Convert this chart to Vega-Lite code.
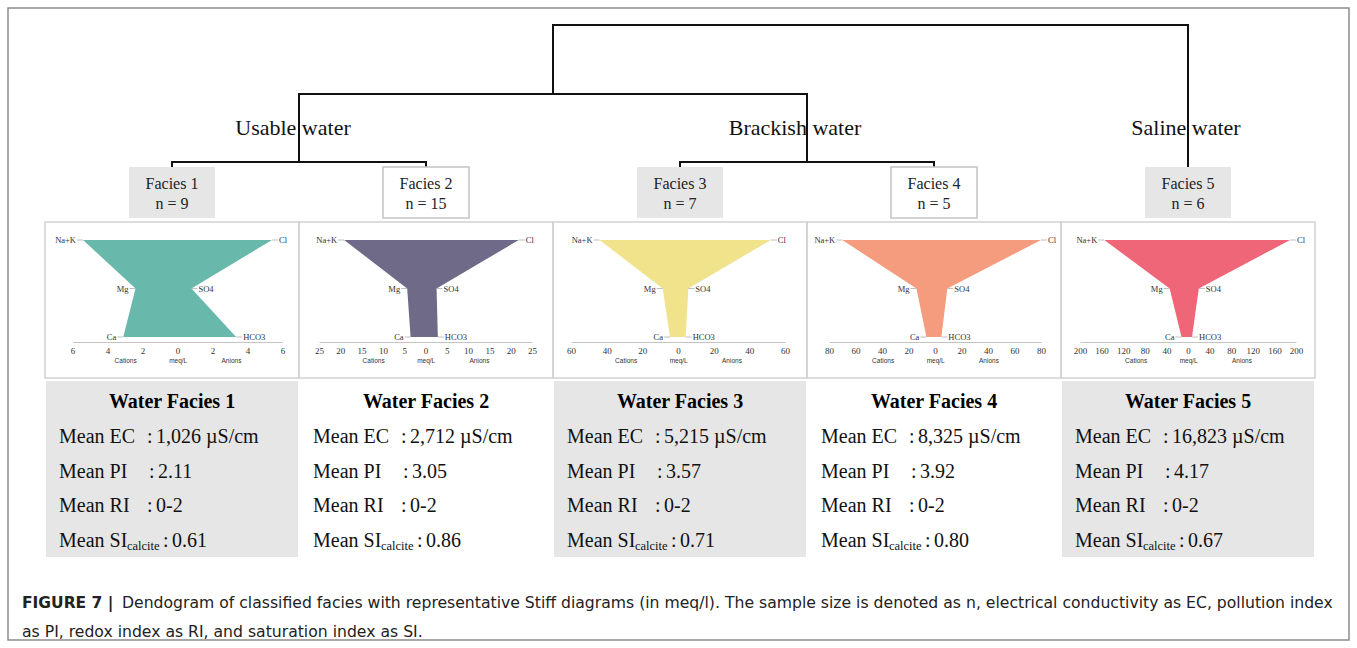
{
  "$schema": "https://vega.github.io/schema/vega-lite/v6.json",
  "width": 1341,
  "height": 632,
  "autosize": {"type": "none"},
  "padding": {"left": 8, "top": 8, "right": 8, "bottom": 8},
  "background": "white",
  "config": {
    "view": {"stroke": "#8c8c8c", "strokeWidth": 1.5},
    "text": {"font": "Liberation Serif", "color": "#111"}
  },
  "datasets": {
    "merges": [
      {"cluster": "Facies 1 + 2", "left": 1, "right": 2, "height": 0.35, "leftFrom": 0, "rightFrom": 0},
      {"cluster": "Facies 3 + 4", "left": 3, "right": 4, "height": 0.35, "leftFrom": 0, "rightFrom": 0},
      {"cluster": "Usable + brackish", "left": 1.5, "right": 3.5, "height": 5.14, "leftFrom": 0.35, "rightFrom": 0.35},
      {"cluster": "All", "left": 2.5, "right": 5, "height": 10, "leftFrom": 5.14, "rightFrom": 0}
    ],
    "groups": [
      {"group": "Usable water", "at": 1.5},
      {"group": "Brackish water", "at": 3.5},
      {"group": "Saline water", "at": 5}
    ],
    "facies": [
      {"facies": 1, "name": "Facies 1", "sample": "n = 9", "title": "Water Facies 1", "Mean EC": "1,026 µS/cm", "Mean PI": "2.11", "Mean RI": "0-2", "Mean SI": "0.61"},
      {"facies": 2, "name": "Facies 2", "sample": "n = 15", "title": "Water Facies 2", "Mean EC": "2,712 µS/cm", "Mean PI": "3.05", "Mean RI": "0-2", "Mean SI": "0.86"},
      {"facies": 3, "name": "Facies 3", "sample": "n = 7", "title": "Water Facies 3", "Mean EC": "5,215 µS/cm", "Mean PI": "3.57", "Mean RI": "0-2", "Mean SI": "0.71"},
      {"facies": 4, "name": "Facies 4", "sample": "n = 5", "title": "Water Facies 4", "Mean EC": "8,325 µS/cm", "Mean PI": "3.92", "Mean RI": "0-2", "Mean SI": "0.80"},
      {"facies": 5, "name": "Facies 5", "sample": "n = 6", "title": "Water Facies 5", "Mean EC": "16,823 µS/cm", "Mean PI": "4.17", "Mean RI": "0-2", "Mean SI": "0.67"}
    ],
    "stiff": [
      {"facies": 1, "row": 3, "cation": -5.4, "anion": 5.4, "cLabel": "Na+K", "aLabel": "Cl"},
      {"facies": 1, "row": 2, "cation": -2.4, "anion": 0.8, "cLabel": "Mg", "aLabel": "SO4"},
      {"facies": 1, "row": 1, "cation": -3.1, "anion": 3.35, "cLabel": "Ca", "aLabel": "HCO3"},
      {"facies": 2, "row": 3, "cation": -19.1, "anion": 21.9, "cLabel": "Na+K", "aLabel": "Cl"},
      {"facies": 2, "row": 2, "cation": -4.3, "anion": 2.6, "cLabel": "Mg", "aLabel": "SO4"},
      {"facies": 2, "row": 1, "cation": -3.5, "anion": 2.9, "cLabel": "Ca", "aLabel": "HCO3"},
      {"facies": 3, "row": 3, "cation": -44, "anion": 52, "cLabel": "Na+K", "aLabel": "Cl"},
      {"facies": 3, "row": 2, "cation": -8.6, "anion": 5.8, "cLabel": "Mg", "aLabel": "SO4"},
      {"facies": 3, "row": 1, "cation": -4.5, "anion": 4.3, "cLabel": "Ca", "aLabel": "HCO3"},
      {"facies": 4, "row": 3, "cation": -70, "anion": 80, "cLabel": "Na+K", "aLabel": "Cl"},
      {"facies": 4, "row": 2, "cation": -14, "anion": 9.3, "cLabel": "Mg", "aLabel": "SO4"},
      {"facies": 4, "row": 1, "cation": -6.5, "anion": 4.8, "cLabel": "Ca", "aLabel": "HCO3"},
      {"facies": 5, "row": 3, "cation": -155, "anion": 189, "cLabel": "Na+K", "aLabel": "Cl"},
      {"facies": 5, "row": 2, "cation": -34, "anion": 20, "cLabel": "Mg", "aLabel": "SO4"},
      {"facies": 5, "row": 1, "cation": -12, "anion": 7.4, "cLabel": "Ca", "aLabel": "HCO3"}
    ],
    "caption": [
      {"line": 1, "lead": "FIGURE 7 |", "text": "Dendogram of classified facies with representative Stiff diagrams (in meq/l). The sample size is denoted as n, electrical conductivity as EC, pollution index"},
      {"line": 2, "lead": "", "text": "as PI, redox index as RI, and saturation index as SI."}
    ]
  },
  "resolve": {"scale": {"x": "independent", "y": "independent"}},
  "layer": [
    {
      "layer": [
        {
          "data": {"name": "merges"},
          "mark": {"type": "rule", "color": "#111", "strokeWidth": 2, "strokeCap": "square"},
          "encoding": {
            "x": {"field": "left", "type": "quantitative", "scale": {"domain": [1, 5], "range": [164, 1180], "nice": false, "zero": false}, "axis": null},
            "x2": {"field": "right"},
            "y": {"field": "height", "type": "quantitative", "scale": {"domain": [0, 10], "range": [159, 17], "nice": false, "zero": false}, "axis": null}
          }
        },
        {
          "data": {"name": "merges"},
          "mark": {"type": "rule", "color": "#111", "strokeWidth": 2, "strokeCap": "square"},
          "encoding": {
            "x": {"field": "left", "type": "quantitative", "axis": null},
            "y": {"field": "leftFrom", "type": "quantitative", "axis": null},
            "y2": {"field": "height"}
          }
        },
        {
          "data": {"name": "merges"},
          "mark": {"type": "rule", "color": "#111", "strokeWidth": 2, "strokeCap": "square"},
          "encoding": {
            "x": {"field": "right", "type": "quantitative", "axis": null},
            "y": {"field": "rightFrom", "type": "quantitative", "axis": null},
            "y2": {"field": "height"}
          }
        },
        {
          "data": {"name": "groups"},
          "transform": [{"filter": "datum.group == 'Usable water'"}],
          "mark": {"type": "text", "fontSize": 22, "dx": -6},
          "encoding": {"x": {"field": "at", "type": "quantitative", "axis": null}, "y": {"datum": 2.75, "type": "quantitative", "axis": null}, "text": {"field": "group"}}
        },
        {
          "data": {"name": "groups"},
          "transform": [{"filter": "datum.group == 'Brackish water'"}],
          "mark": {"type": "text", "fontSize": 22, "dx": -12},
          "encoding": {"x": {"field": "at", "type": "quantitative", "axis": null}, "y": {"datum": 2.75, "type": "quantitative", "axis": null}, "text": {"field": "group"}}
        },
        {
          "data": {"name": "groups"},
          "transform": [{"filter": "datum.group == 'Saline water'"}],
          "mark": {"type": "text", "fontSize": 22, "dx": -2},
          "encoding": {"x": {"field": "at", "type": "quantitative", "axis": null}, "y": {"datum": 2.75, "type": "quantitative", "axis": null}, "text": {"field": "group"}}
        },
        {
          "data": {"name": "facies"},
          "mark": {"type": "point", "shape": "M-1,-0.593H1V0.593H-1Z", "size": 7396, "filled": true, "opacity": 1, "yOffset": 25.5, "strokeWidth": 1.5},
          "encoding": {
            "x": {"field": "facies", "type": "quantitative", "axis": null},
            "y": {"datum": 0, "type": "quantitative", "axis": null},
            "fill": {"condition": {"test": "datum.facies % 2 == 0", "value": "#ffffff"}, "value": "#e6e6e6"},
            "stroke": {"condition": {"test": "datum.facies % 2 == 0", "value": "#c4c4c4"}, "value": "transparent"}
          }
        },
        {
          "data": {"name": "facies"},
          "mark": {"type": "point", "shape": "M-1,-0.614H1V0.614H-1Z", "size": 64516, "filled": false, "opacity": 1, "yOffset": 133, "stroke": "#d2d2d2", "strokeWidth": 1.5},
          "encoding": {
            "x": {"field": "facies", "type": "quantitative", "axis": null},
            "y": {"datum": 0, "type": "quantitative", "axis": null}
          }
        },
        {
          "data": {"name": "facies"},
          "mark": {"type": "text", "fontSize": 16, "dy": 17, "color": "#222"},
          "encoding": {"x": {"field": "facies", "type": "quantitative", "axis": null}, "y": {"datum": 0, "type": "quantitative", "axis": null}, "text": {"field": "name"}}
        },
        {
          "data": {"name": "facies"},
          "mark": {"type": "text", "fontSize": 16, "dy": 37, "color": "#222"},
          "encoding": {"x": {"field": "facies", "type": "quantitative", "axis": null}, "y": {"datum": 0, "type": "quantitative", "axis": null}, "text": {"field": "sample"}}
        }
      ]
    },
    {
      "data": {"name": "facies"},
      "layer": [
        {
          "transform": [{"filter": "datum.facies % 2 == 1"}],
          "mark": {"type": "point", "shape": "M-1,-0.698H1V0.698H-1Z", "size": 63504, "filled": true, "fill": "#e6e6e6", "opacity": 1, "yOffset": -2.5},
          "encoding": {
            "x": {"field": "facies", "type": "quantitative", "scale": {"domain": [1, 5], "range": [164, 1180], "nice": false, "zero": false}, "axis": null},
            "y": {"datum": 3, "type": "quantitative", "scale": {"domain": [1, 5], "range": [394, 533], "nice": false, "zero": false}, "axis": null}
          }
        },
        {
          "mark": {"type": "text", "fontSize": 20, "fontWeight": "bold", "color": "#000"},
          "encoding": {"x": {"field": "facies", "type": "quantitative", "axis": null}, "y": {"datum": 1, "type": "quantitative", "axis": null}, "text": {"field": "title"}}
        },
        {
          "mark": {"type": "text", "fontSize": 20, "align": "left", "dx": -113, "color": "#111", "text": "Mean EC"},
          "encoding": {"x": {"field": "facies", "type": "quantitative", "axis": null}, "y": {"datum": 2, "type": "quantitative", "axis": null}}
        },
        {
          "mark": {"type": "text", "fontSize": 20, "align": "left", "dx": -25, "color": "#111", "text": ":"},
          "encoding": {"x": {"field": "facies", "type": "quantitative", "axis": null}, "y": {"datum": 2, "type": "quantitative", "axis": null}}
        },
        {
          "mark": {"type": "text", "fontSize": 20, "align": "left", "dx": -16, "color": "#111"},
          "encoding": {"x": {"field": "facies", "type": "quantitative", "axis": null}, "y": {"datum": 2, "type": "quantitative", "axis": null}, "text": {"field": "Mean EC"}}
        },
        {
          "mark": {"type": "text", "fontSize": 20, "align": "left", "dx": -113, "color": "#111", "text": "Mean PI"},
          "encoding": {"x": {"field": "facies", "type": "quantitative", "axis": null}, "y": {"datum": 3, "type": "quantitative", "axis": null}}
        },
        {
          "mark": {"type": "text", "fontSize": 20, "align": "left", "dx": -23, "color": "#111", "text": ":"},
          "encoding": {"x": {"field": "facies", "type": "quantitative", "axis": null}, "y": {"datum": 3, "type": "quantitative", "axis": null}}
        },
        {
          "mark": {"type": "text", "fontSize": 20, "align": "left", "dx": -14, "color": "#111"},
          "encoding": {"x": {"field": "facies", "type": "quantitative", "axis": null}, "y": {"datum": 3, "type": "quantitative", "axis": null}, "text": {"field": "Mean PI"}}
        },
        {
          "mark": {"type": "text", "fontSize": 20, "align": "left", "dx": -113, "color": "#111", "text": "Mean RI"},
          "encoding": {"x": {"field": "facies", "type": "quantitative", "axis": null}, "y": {"datum": 4, "type": "quantitative", "axis": null}}
        },
        {
          "mark": {"type": "text", "fontSize": 20, "align": "left", "dx": -25, "color": "#111", "text": ":"},
          "encoding": {"x": {"field": "facies", "type": "quantitative", "axis": null}, "y": {"datum": 4, "type": "quantitative", "axis": null}}
        },
        {
          "mark": {"type": "text", "fontSize": 20, "align": "left", "dx": -16, "color": "#111"},
          "encoding": {"x": {"field": "facies", "type": "quantitative", "axis": null}, "y": {"datum": 4, "type": "quantitative", "axis": null}, "text": {"field": "Mean RI"}}
        },
        {
          "mark": {"type": "text", "fontSize": 20, "align": "left", "dx": -113, "color": "#111", "text": "Mean SI"},
          "encoding": {"x": {"field": "facies", "type": "quantitative", "axis": null}, "y": {"datum": 5, "type": "quantitative", "axis": null}}
        },
        {
          "mark": {"type": "text", "fontSize": 12.5, "align": "left", "dx": -45, "dy": 5, "color": "#111", "text": "calcite"},
          "encoding": {"x": {"field": "facies", "type": "quantitative", "axis": null}, "y": {"datum": 5, "type": "quantitative", "axis": null}}
        },
        {
          "mark": {"type": "text", "fontSize": 20, "align": "left", "dx": -9, "color": "#111", "text": ":"},
          "encoding": {"x": {"field": "facies", "type": "quantitative", "axis": null}, "y": {"datum": 5, "type": "quantitative", "axis": null}}
        },
        {
          "mark": {"type": "text", "fontSize": 20, "align": "left", "dx": 0, "color": "#111"},
          "encoding": {"x": {"field": "facies", "type": "quantitative", "axis": null}, "y": {"datum": 5, "type": "quantitative", "axis": null}, "text": {"field": "Mean SI"}}
        }
      ]
    },
    {
      "data": {"name": "caption"},
      "layer": [
        {
          "mark": {"type": "text", "font": "DejaVu Sans", "fontSize": 15.5, "fontWeight": "bold", "align": "left", "color": "#222"},
          "encoding": {
            "x": {"datum": 14, "type": "quantitative", "scale": {"domain": [0, 1341], "range": [0, 1341], "nice": false, "zero": false}, "axis": null},
            "y": {"field": "line", "type": "quantitative", "scale": {"domain": [1, 2], "range": [595, 624], "nice": false, "zero": false}, "axis": null},
            "text": {"field": "lead"}
          }
        },
        {
          "transform": [{"filter": "datum.line == 1"}],
          "mark": {"type": "text", "font": "DejaVu Sans", "fontSize": 15.65, "align": "left", "dx": 100, "color": "#222"},
          "encoding": {
            "x": {"datum": 14, "type": "quantitative", "axis": null},
            "y": {"field": "line", "type": "quantitative", "axis": null},
            "text": {"field": "text"}
          }
        },
        {
          "transform": [{"filter": "datum.line == 2"}],
          "mark": {"type": "text", "font": "DejaVu Sans", "fontSize": 15.65, "align": "left", "color": "#222"},
          "encoding": {
            "x": {"datum": 14, "type": "quantitative", "axis": null},
            "y": {"field": "line", "type": "quantitative", "axis": null},
            "text": {"field": "text"}
          }
        }
      ]
    },
    {
      "data": {"name": "stiff"},
      "transform": [{"filter": "datum.facies == 1"}],
      "layer": [
        {"mark": {"type": "area", "orient": "horizontal", "color": "#68b9ac", "opacity": 1},
          "encoding": {
            "y": {"field": "row", "type": "quantitative", "scale": {"domain": [1, 3], "range": [329, 232], "nice": false, "zero": false}, "axis": null},
            "x": {"field": "cation", "type": "quantitative", "scale": {"domain": [-6, 6], "range": [64.5, 274.5], "nice": false, "zero": false},
              "axis": {"orient": "bottom", "offset": -298, "values": [-6, -4, -2, 0, 2, 4, 6], "labelExpr": "abs(datum.value)", "ticks": false, "tickSize": 0, "grid": false, "domainColor": "#c4c4c4", "domainWidth": 1, "labelFont": "Liberation Serif", "labelFontSize": 9, "labelColor": "#333", "labelPadding": 4, "labelFlush": false, "labelOverlap": false, "title": "Cations\u00a0\u00a0\u00a0\u00a0\u00a0\u00a0\u00a0\u00a0\u00a0\u00a0\u00a0\u00a0\u00a0\u00a0\u00a0\u00a0\u00a0\u00a0meq/L\u00a0\u00a0\u00a0\u00a0\u00a0\u00a0\u00a0\u00a0\u00a0\u00a0\u00a0\u00a0\u00a0\u00a0\u00a0\u00a0\u00a0\u00a0\u00a0Anions", "titleFont": "Liberation Sans", "titleFontSize": 6.5, "titleFontWeight": "normal", "titleColor": "#333", "titlePadding": 2.5}},
            "x2": {"field": "anion"}}},
        {"mark": {"type": "rule", "x2Offset": -6, "color": "#b0b0b0", "strokeWidth": 0.8}, "encoding": {"y": {"field": "row", "type": "quantitative"}, "x": {"field": "cation", "type": "quantitative"}, "x2": {"field": "cation"}}},
        {"mark": {"type": "rule", "x2Offset": 6, "color": "#b0b0b0", "strokeWidth": 0.8}, "encoding": {"y": {"field": "row", "type": "quantitative"}, "x": {"field": "anion", "type": "quantitative"}, "x2": {"field": "anion"}}},
        {"mark": {"type": "text", "align": "right", "dx": -7, "fontSize": 8.5, "color": "#333"}, "encoding": {"y": {"field": "row", "type": "quantitative"}, "x": {"field": "cation", "type": "quantitative"}, "text": {"field": "cLabel"}}},
        {"mark": {"type": "text", "align": "left", "dx": 7, "fontSize": 8.5, "color": "#333"}, "encoding": {"y": {"field": "row", "type": "quantitative"}, "x": {"field": "anion", "type": "quantitative"}, "text": {"field": "aLabel"}}}
      ]
    },
    {
      "data": {"name": "stiff"},
      "transform": [{"filter": "datum.facies == 2"}],
      "layer": [
        {"mark": {"type": "area", "orient": "horizontal", "color": "#6e6a87", "opacity": 1},
          "encoding": {
            "y": {"field": "row", "type": "quantitative", "scale": {"domain": [1, 3], "range": [329, 232], "nice": false, "zero": false}, "axis": null},
            "x": {"field": "cation", "type": "quantitative", "scale": {"domain": [-25, 25], "range": [311, 524], "nice": false, "zero": false},
              "axis": {"orient": "bottom", "offset": -298, "values": [-25, -20, -15, -10, -5, 0, 5, 10, 15, 20, 25], "labelExpr": "abs(datum.value)", "ticks": false, "tickSize": 0, "grid": false, "domainColor": "#c4c4c4", "domainWidth": 1, "labelFont": "Liberation Serif", "labelFontSize": 9, "labelColor": "#333", "labelPadding": 4, "labelFlush": false, "labelOverlap": false, "title": "Cations\u00a0\u00a0\u00a0\u00a0\u00a0\u00a0\u00a0\u00a0\u00a0\u00a0\u00a0\u00a0\u00a0\u00a0\u00a0\u00a0\u00a0\u00a0meq/L\u00a0\u00a0\u00a0\u00a0\u00a0\u00a0\u00a0\u00a0\u00a0\u00a0\u00a0\u00a0\u00a0\u00a0\u00a0\u00a0\u00a0\u00a0\u00a0Anions", "titleFont": "Liberation Sans", "titleFontSize": 6.5, "titleFontWeight": "normal", "titleColor": "#333", "titlePadding": 2.5}},
            "x2": {"field": "anion"}}},
        {"mark": {"type": "rule", "x2Offset": -6, "color": "#b0b0b0", "strokeWidth": 0.8}, "encoding": {"y": {"field": "row", "type": "quantitative"}, "x": {"field": "cation", "type": "quantitative"}, "x2": {"field": "cation"}}},
        {"mark": {"type": "rule", "x2Offset": 6, "color": "#b0b0b0", "strokeWidth": 0.8}, "encoding": {"y": {"field": "row", "type": "quantitative"}, "x": {"field": "anion", "type": "quantitative"}, "x2": {"field": "anion"}}},
        {"mark": {"type": "text", "align": "right", "dx": -7, "fontSize": 8.5, "color": "#333"}, "encoding": {"y": {"field": "row", "type": "quantitative"}, "x": {"field": "cation", "type": "quantitative"}, "text": {"field": "cLabel"}}},
        {"mark": {"type": "text", "align": "left", "dx": 7, "fontSize": 8.5, "color": "#333"}, "encoding": {"y": {"field": "row", "type": "quantitative"}, "x": {"field": "anion", "type": "quantitative"}, "text": {"field": "aLabel"}}}
      ]
    },
    {
      "data": {"name": "stiff"},
      "transform": [{"filter": "datum.facies == 3"}],
      "layer": [
        {"mark": {"type": "area", "orient": "horizontal", "color": "#f0e38c", "opacity": 1},
          "encoding": {
            "y": {"field": "row", "type": "quantitative", "scale": {"domain": [1, 3], "range": [329, 232], "nice": false, "zero": false}, "axis": null},
            "x": {"field": "cation", "type": "quantitative", "scale": {"domain": [-60, 60], "range": [563, 777], "nice": false, "zero": false},
              "axis": {"orient": "bottom", "offset": -298, "values": [-60, -40, -20, 0, 20, 40, 60], "labelExpr": "abs(datum.value)", "ticks": false, "tickSize": 0, "grid": false, "domainColor": "#c4c4c4", "domainWidth": 1, "labelFont": "Liberation Serif", "labelFontSize": 9, "labelColor": "#333", "labelPadding": 4, "labelFlush": false, "labelOverlap": false, "title": "Cations\u00a0\u00a0\u00a0\u00a0\u00a0\u00a0\u00a0\u00a0\u00a0\u00a0\u00a0\u00a0\u00a0\u00a0\u00a0\u00a0\u00a0\u00a0meq/L\u00a0\u00a0\u00a0\u00a0\u00a0\u00a0\u00a0\u00a0\u00a0\u00a0\u00a0\u00a0\u00a0\u00a0\u00a0\u00a0\u00a0\u00a0\u00a0Anions", "titleFont": "Liberation Sans", "titleFontSize": 6.5, "titleFontWeight": "normal", "titleColor": "#333", "titlePadding": 2.5}},
            "x2": {"field": "anion"}}},
        {"mark": {"type": "rule", "x2Offset": -6, "color": "#b0b0b0", "strokeWidth": 0.8}, "encoding": {"y": {"field": "row", "type": "quantitative"}, "x": {"field": "cation", "type": "quantitative"}, "x2": {"field": "cation"}}},
        {"mark": {"type": "rule", "x2Offset": 6, "color": "#b0b0b0", "strokeWidth": 0.8}, "encoding": {"y": {"field": "row", "type": "quantitative"}, "x": {"field": "anion", "type": "quantitative"}, "x2": {"field": "anion"}}},
        {"mark": {"type": "text", "align": "right", "dx": -7, "fontSize": 8.5, "color": "#333"}, "encoding": {"y": {"field": "row", "type": "quantitative"}, "x": {"field": "cation", "type": "quantitative"}, "text": {"field": "cLabel"}}},
        {"mark": {"type": "text", "align": "left", "dx": 7, "fontSize": 8.5, "color": "#333"}, "encoding": {"y": {"field": "row", "type": "quantitative"}, "x": {"field": "anion", "type": "quantitative"}, "text": {"field": "aLabel"}}}
      ]
    },
    {
      "data": {"name": "stiff"},
      "transform": [{"filter": "datum.facies == 4"}],
      "layer": [
        {"mark": {"type": "area", "orient": "horizontal", "color": "#f69c7e", "opacity": 1},
          "encoding": {
            "y": {"field": "row", "type": "quantitative", "scale": {"domain": [1, 3], "range": [329, 232], "nice": false, "zero": false}, "axis": null},
            "x": {"field": "cation", "type": "quantitative", "scale": {"domain": [-80, 80], "range": [821, 1033], "nice": false, "zero": false},
              "axis": {"orient": "bottom", "offset": -298, "values": [-80, -60, -40, -20, 0, 20, 40, 60, 80], "labelExpr": "abs(datum.value)", "ticks": false, "tickSize": 0, "grid": false, "domainColor": "#c4c4c4", "domainWidth": 1, "labelFont": "Liberation Serif", "labelFontSize": 9, "labelColor": "#333", "labelPadding": 4, "labelFlush": false, "labelOverlap": false, "title": "Cations\u00a0\u00a0\u00a0\u00a0\u00a0\u00a0\u00a0\u00a0\u00a0\u00a0\u00a0\u00a0\u00a0\u00a0\u00a0\u00a0\u00a0\u00a0meq/L\u00a0\u00a0\u00a0\u00a0\u00a0\u00a0\u00a0\u00a0\u00a0\u00a0\u00a0\u00a0\u00a0\u00a0\u00a0\u00a0\u00a0\u00a0\u00a0Anions", "titleFont": "Liberation Sans", "titleFontSize": 6.5, "titleFontWeight": "normal", "titleColor": "#333", "titlePadding": 2.5}},
            "x2": {"field": "anion"}}},
        {"mark": {"type": "rule", "x2Offset": -6, "color": "#b0b0b0", "strokeWidth": 0.8}, "encoding": {"y": {"field": "row", "type": "quantitative"}, "x": {"field": "cation", "type": "quantitative"}, "x2": {"field": "cation"}}},
        {"mark": {"type": "rule", "x2Offset": 6, "color": "#b0b0b0", "strokeWidth": 0.8}, "encoding": {"y": {"field": "row", "type": "quantitative"}, "x": {"field": "anion", "type": "quantitative"}, "x2": {"field": "anion"}}},
        {"mark": {"type": "text", "align": "right", "dx": -7, "fontSize": 8.5, "color": "#333"}, "encoding": {"y": {"field": "row", "type": "quantitative"}, "x": {"field": "cation", "type": "quantitative"}, "text": {"field": "cLabel"}}},
        {"mark": {"type": "text", "align": "left", "dx": 7, "fontSize": 8.5, "color": "#333"}, "encoding": {"y": {"field": "row", "type": "quantitative"}, "x": {"field": "anion", "type": "quantitative"}, "text": {"field": "aLabel"}}}
      ]
    },
    {
      "data": {"name": "stiff"},
      "transform": [{"filter": "datum.facies == 5"}],
      "layer": [
        {"mark": {"type": "area", "orient": "horizontal", "color": "#ef6679", "opacity": 1},
          "encoding": {
            "y": {"field": "row", "type": "quantitative", "scale": {"domain": [1, 3], "range": [329, 232], "nice": false, "zero": false}, "axis": null},
            "x": {"field": "cation", "type": "quantitative", "scale": {"domain": [-200, 200], "range": [1072, 1288], "nice": false, "zero": false},
              "axis": {"orient": "bottom", "offset": -298, "values": [-200, -160, -120, -80, -40, 0, 40, 80, 120, 160, 200], "labelExpr": "abs(datum.value)", "ticks": false, "tickSize": 0, "grid": false, "domainColor": "#c4c4c4", "domainWidth": 1, "labelFont": "Liberation Serif", "labelFontSize": 9, "labelColor": "#333", "labelPadding": 4, "labelFlush": false, "labelOverlap": false, "title": "Cations\u00a0\u00a0\u00a0\u00a0\u00a0\u00a0\u00a0\u00a0\u00a0\u00a0\u00a0\u00a0\u00a0\u00a0\u00a0\u00a0\u00a0\u00a0meq/L\u00a0\u00a0\u00a0\u00a0\u00a0\u00a0\u00a0\u00a0\u00a0\u00a0\u00a0\u00a0\u00a0\u00a0\u00a0\u00a0\u00a0\u00a0\u00a0Anions", "titleFont": "Liberation Sans", "titleFontSize": 6.5, "titleFontWeight": "normal", "titleColor": "#333", "titlePadding": 2.5}},
            "x2": {"field": "anion"}}},
        {"mark": {"type": "rule", "x2Offset": -6, "color": "#b0b0b0", "strokeWidth": 0.8}, "encoding": {"y": {"field": "row", "type": "quantitative"}, "x": {"field": "cation", "type": "quantitative"}, "x2": {"field": "cation"}}},
        {"mark": {"type": "rule", "x2Offset": 6, "color": "#b0b0b0", "strokeWidth": 0.8}, "encoding": {"y": {"field": "row", "type": "quantitative"}, "x": {"field": "anion", "type": "quantitative"}, "x2": {"field": "anion"}}},
        {"mark": {"type": "text", "align": "right", "dx": -7, "fontSize": 8.5, "color": "#333"}, "encoding": {"y": {"field": "row", "type": "quantitative"}, "x": {"field": "cation", "type": "quantitative"}, "text": {"field": "cLabel"}}},
        {"mark": {"type": "text", "align": "left", "dx": 7, "fontSize": 8.5, "color": "#333"}, "encoding": {"y": {"field": "row", "type": "quantitative"}, "x": {"field": "anion", "type": "quantitative"}, "text": {"field": "aLabel"}}}
      ]
    }
  ]
}
